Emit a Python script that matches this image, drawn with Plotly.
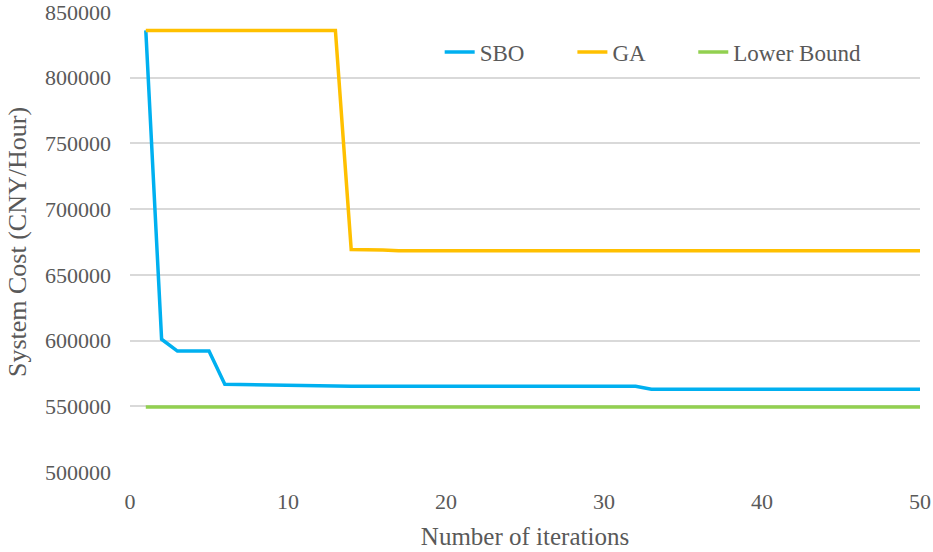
import plotly.graph_objects as go

iterations = list(range(1, 51))
sbo = ([836000, 601000, 592000, 592000, 592000, 566700, 566500, 566000, 566000, 566000, 566000]
       + [565300] * 21 + [562900] * 18)
ga = [836000] * 13 + [669300, 669200, 669000] + [668300] * 34
lower_bound = [549500] * 50

font_family = "Liberation Serif, Times New Roman, serif"
grey = "#595959"

fig = go.Figure()
fig.add_trace(go.Scatter(x=iterations, y=sbo, mode="lines", name="SBO",
                         line=dict(color="#00B0F0", width=3.5), legend="legend"))
fig.add_trace(go.Scatter(x=iterations, y=ga, mode="lines", name="GA",
                         line=dict(color="#FFC000", width=3.5), legend="legend2"))
fig.add_trace(go.Scatter(x=iterations, y=lower_bound, mode="lines", name="Lower Bound",
                         line=dict(color="#92D050", width=3.5), legend="legend3"))

leg_common = dict(orientation="h", y=0.913, xanchor="left", yanchor="middle",
                  font=dict(size=23, color=grey), bgcolor="rgba(0,0,0,0)", itemwidth=30)

fig.update_layout(
    width=933, height=552,
    margin=dict(l=130, r=13, t=12, b=80, autoexpand=False),
    paper_bgcolor="white", plot_bgcolor="white",
    font=dict(family=font_family, color=grey, size=22),
    legend=dict(x=0.392, **leg_common),
    legend2=dict(x=0.560, **leg_common),
    legend3=dict(x=0.713, **leg_common),
    showlegend=True,
)
fig.update_xaxes(range=[0, 50], dtick=10, tick0=0, showgrid=False, zeroline=False,
                 showline=False, ticks="", ticklabelstandoff=14, automargin=False,
                 ticklabeloverflow="allow", tickfont=dict(size=22, color=grey),
                 title=dict(text="Number of iterations", font=dict(size=25, color=grey), standoff=14))
fig.update_yaxes(range=[500000, 850000], dtick=50000, showgrid=True, gridcolor="#d9d9d9",
                 gridwidth=1.5, zeroline=False, showline=False, ticks="", automargin=False,
                 ticklabeloverflow="allow", ticklabelstandoff=18, tickformat="d",
                 tickfont=dict(size=22, color=grey),
                 title=dict(text="System Cost (CNY/Hour)", font=dict(size=26, color=grey), standoff=10))

fig.write_html("out.html", config={"displayModeBar": False},
               post_script="document.body.style.margin='0';")
